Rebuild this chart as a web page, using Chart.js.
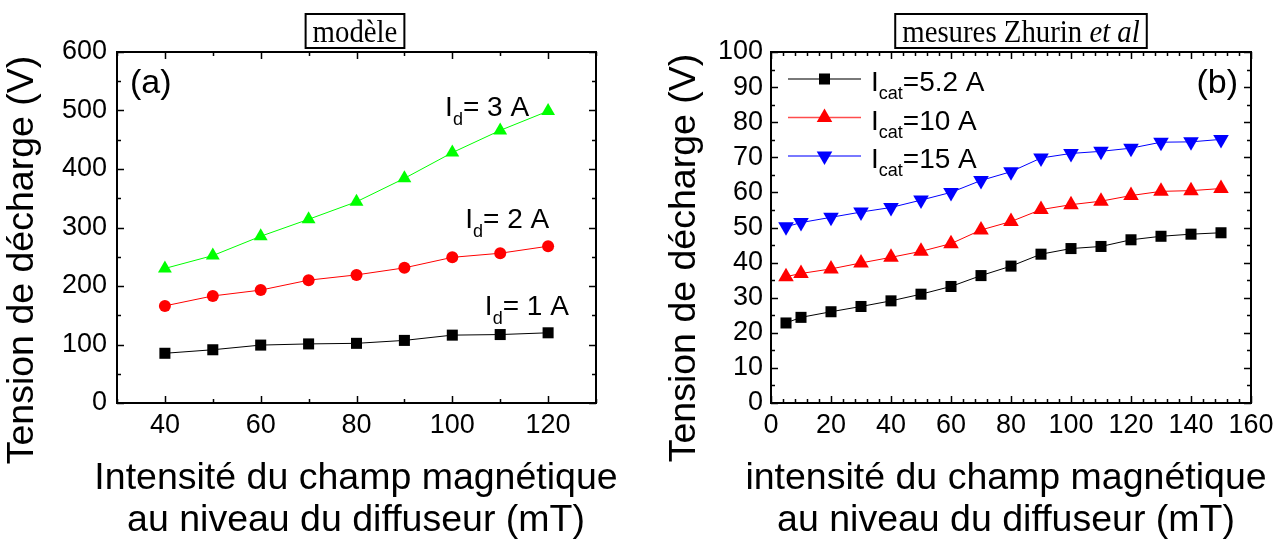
<!DOCTYPE html>
<html lang="fr">
<head>
<meta charset="utf-8" />
<title>Tension de décharge</title>
<style>
  html, body { margin: 0; padding: 0; background: #fff; }
  #cadre { position: relative; width: 1287px; height: 541px; overflow: hidden; }
  canvas { position: absolute; top: 0; }
  #panneauA { left: 0; }
  #panneauB { left: 640px; }
</style>
</head>
<body>
<div id="cadre">
  <canvas id="panneauA" width="640" height="541"></canvas>
  <canvas id="panneauB" width="647" height="541"></canvas>
</div>
<script src="https://cdn.jsdelivr.net/npm/chart.js@4.4.1/dist/chart.umd.min.js"></script>
<script>
// (a) modèle : tension vs champ, pour trois courants de décharge
const champA = [40, 50, 60, 70, 80, 90, 100, 110, 120];
const tensionId1 = [85, 91, 99, 101, 102, 107, 116, 117, 120];
const tensionId2 = [166, 183, 193, 210, 219, 231, 249, 256, 268];
const tensionId3 = [230, 252, 285, 314, 344, 384, 428, 466, 499];
const ticksXA = [40, 60, 80, 100, 120];
const ticksYA = [0, 100, 200, 300, 400, 500, 600];

// (b) mesures Zhurin et al : trois courants de cathode
const champB = [5, 10, 20, 30, 40, 50, 60, 70, 80, 90, 100, 110, 120, 130, 140, 150];
const tensionCat52 = [22.8, 24.4, 26.0, 27.5, 29.1, 31.0, 33.2, 36.3, 39.0, 42.4, 44.0, 44.6, 46.5, 47.5, 48.1, 48.5];
const tensionCat10 = [36.0, 36.9, 38.2, 39.9, 41.5, 43.2, 45.4, 49.3, 51.7, 55.1, 56.5, 57.5, 59.1, 60.3, 60.5, 61.1];
const tensionCat15 = [50.2, 51.4, 52.9, 54.4, 55.7, 57.8, 60.0, 63.4, 65.9, 69.8, 71.1, 71.7, 72.6, 74.3, 74.4, 75.1];
const ticksXB = [0, 20, 40, 60, 80, 100, 120, 140, 160];
const ticksYB = [0, 10, 20, 30, 40, 50, 60, 70, 80, 90, 100];

const SANS = "'Liberation Sans', Arial, Helvetica, sans-serif";
const SERIF = "'Liberation Serif', 'Times New Roman', serif";
Chart.defaults.font.family = SANS;
Chart.defaults.color = '#000';

function points(xs, ys) {
    return xs.map((x, i) => ({ x: x, y: ys[i] }));
}

// texte avec indice : [["I", 28], ["d", 18, 9], ["= 3 A", 28]]
function texteIndice(ctx, morceaux, x, y) {
    ctx.textAlign = 'left';
    ctx.textBaseline = 'alphabetic';
    morceaux.forEach((m) => {
        ctx.font = m[1] + 'px ' + SANS;
        ctx.fillText(m[0], x, y + (m[2] || 0));
        x += ctx.measureText(m[0]).width;
    });
}

function marqueur(ctx, ds, x, y) {
    ctx.fillStyle = ds.pointBackgroundColor;
    ctx.strokeStyle = ds.pointBackgroundColor;
    Chart.helpers.drawPoint(ctx, {
        pointStyle: ds.pointStyle,
        rotation: ds.pointRotation || 0,
        radius: ds.pointRadius,
        borderWidth: 0
    }, x, y);
}

function decor(cfg) {
    return {
        id: 'decor',
        afterDatasetsDraw(chart) {
            const ctx = chart.ctx, a = chart.chartArea;
            const xs = chart.scales.x, ys = chart.scales.y;
            ctx.save();
            ctx.fillStyle = '#000';
            ctx.strokeStyle = '#000';

            // graduations vers l'intérieur, sur les quatre côtés
            ctx.lineWidth = 1.5;
            ctx.beginPath();
            for (let v = xs.min; v <= xs.max + 1e-9; v += cfg.xMineur) {
                const p = Math.round(xs.getPixelForValue(v)) + 0.5;
                const L = Math.abs(v / cfg.xMajeur - Math.round(v / cfg.xMajeur)) < 1e-6 ? 7 : 4;
                ctx.moveTo(p, a.bottom); ctx.lineTo(p, a.bottom - L);
                ctx.moveTo(p, a.top); ctx.lineTo(p, a.top + L);
            }
            for (let v = ys.min; v <= ys.max + 1e-9; v += cfg.yMineur) {
                const p = Math.round(ys.getPixelForValue(v)) + 0.5;
                const L = Math.abs(v / cfg.yMajeur - Math.round(v / cfg.yMajeur)) < 1e-6 ? 7 : 4;
                ctx.moveTo(a.left, p); ctx.lineTo(a.left + L, p);
                ctx.moveTo(a.right, p); ctx.lineTo(a.right - L, p);
            }
            ctx.stroke();
            ctx.lineWidth = 2;
            ctx.strokeRect(a.left, a.top, a.right - a.left, a.bottom - a.top);

            // titres des axes
            ctx.font = '37.5px ' + SANS;
            ctx.textAlign = 'center';
            ctx.textBaseline = 'alphabetic';
            ctx.fillText(cfg.titreX[0], cfg.titreXc, 489);
            ctx.fillText(cfg.titreX[1], cfg.titreXc, 531);
            ctx.save();
            ctx.translate(cfg.titreY[1], cfg.titreY[2]);
            ctx.rotate(-Math.PI / 2);
            ctx.fillText(cfg.titreY[0], 0, 0);
            ctx.restore();

            // titre encadré, en Times un peu serré
            const serre = 0.9;
            ctx.textAlign = 'left';
            let largeur = 0;
            cfg.boite.forEach((m) => {
                ctx.font = (m[1] ? 'italic ' : '') + '32px ' + SERIF;
                largeur += ctx.measureText(m[0]).width * serre;
            });
            const bx = cfg.boiteX - largeur / 2 - 7;
            ctx.lineWidth = 2;
            ctx.strokeRect(bx, 14, largeur + 14, 34);
            let tx = bx + 7;
            cfg.boite.forEach((m) => {
                ctx.font = (m[1] ? 'italic ' : '') + '32px ' + SERIF;
                const w = ctx.measureText(m[0]).width;
                ctx.save();
                ctx.translate(tx, 42);
                ctx.scale(serre, 1);
                ctx.fillText(m[0], 0, 0);
                ctx.restore();
                tx += w * serre;
            });

            // lettre du panneau
            ctx.font = '34px ' + SANS;
            ctx.textAlign = cfg.lettre[1];
            ctx.fillText(cfg.lettre[0], cfg.lettre[1] === 'left' ? a.left + 13 : a.right - 13, a.top + 41);

            // étiquettes des courbes
            (cfg.etiquettes || []).forEach((e) => {
                texteIndice(ctx, e.texte, xs.getPixelForValue(e.x), ys.getPixelForValue(e.y));
            });

            // légende
            if (cfg.legende) {
                chart.data.datasets.forEach((ds, i) => {
                    const y = a.top + 27 + i * 38.5;
                    ctx.strokeStyle = ds.borderColor;
                    ctx.globalAlpha = 0.7;
                    ctx.lineWidth = 1.5;
                    ctx.beginPath();
                    ctx.moveTo(a.left + 17, y);
                    ctx.lineTo(a.left + 90, y);
                    ctx.stroke();
                    ctx.globalAlpha = 1;
                    marqueur(ctx, ds, a.left + 53.5, y);
                    ctx.fillStyle = '#000';
                    texteIndice(ctx, [['I', 28], ['cat', 18, 8], [ds.label, 28]], a.left + 100, y + 12);
                });
            }
            ctx.restore();
        }
    };
}

function axes(cfg) {
    return {
        x: {
            type: 'linear', min: cfg.xMin, max: cfg.xMax,
            afterBuildTicks: (s) => { s.ticks = cfg.ticksX.map((v) => ({ value: v })); },
            afterFit: (s) => { s.height = 138; },
            grid: { display: false, drawTicks: false },
            border: { display: false },
            ticks: { padding: 6, font: { size: 27 }, color: '#000', maxRotation: 0, autoSkip: false }
        },
        y: {
            type: 'linear', min: cfg.yMin, max: cfg.yMax,
            afterBuildTicks: (s) => { s.ticks = cfg.ticksY.map((v) => ({ value: v })); },
            afterFit: (s) => { s.width = cfg.largeurY; },
            grid: { display: false, drawTicks: false },
            border: { display: false },
            ticks: { padding: cfg.padY, font: { size: 27 }, color: '#000', autoSkip: false }
        }
    };
}

const commun = {
    responsive: false,
    animation: false,
    events: [],
    plugins: { legend: { display: false }, tooltip: { enabled: false }, title: { display: false } }
};

new Chart(document.getElementById('panneauA'), {
    type: 'line',
    data: {
        datasets: [
            { label: 'Id = 1 A', data: points(champA, tensionId1), borderColor: '#000000', borderWidth: 1,
              pointStyle: 'rect', pointRadius: 7.8, pointBackgroundColor: '#000000', pointBorderWidth: 0 },
            { label: 'Id = 2 A', data: points(champA, tensionId2), borderColor: '#ff0000', borderWidth: 1,
              pointStyle: 'circle', pointRadius: 6, pointBackgroundColor: '#ff0000', pointBorderWidth: 0 },
            { label: 'Id = 3 A', data: points(champA, tensionId3), borderColor: '#00ff00', borderWidth: 1,
              pointStyle: 'triangle', pointRadius: 8, pointBackgroundColor: '#00ff00', pointBorderWidth: 0 }
        ]
    },
    options: Object.assign({}, commun, {
        layout: { padding: { left: 0, top: 52, right: 44, bottom: 0 } },
        scales: axes({
            xMin: 30, xMax: 130, yMin: 0, yMax: 600, ticksX: ticksXA, ticksY: ticksYA,
            largeurY: 117, padY: 10
        })
    }),
    plugins: [decor({
        xMineur: 10, xMajeur: 20, yMineur: 50, yMajeur: 100,
        titreX: ['Intensité du champ magnétique', 'au niveau du diffuseur (mT)'], titreXc: 356,
        titreY: ['Tension de décharge (V)', 33, 260],
        boite: [['modèle', false]], boiteX: 355,
        lettre: ['(a)', 'left'],
        etiquettes: [
            { texte: [['I', 28], ['d', 18, 9], ['= 3 A', 28]], x: 98.5, y: 490 },
            { texte: [['I', 28], ['d', 18, 9], ['= 2 A', 28]], x: 102.7, y: 299 },
            { texte: [['I', 28], ['d', 18, 9], ['= 1 A', 28]], x: 106.8, y: 150 }
        ]
    })]
});

new Chart(document.getElementById('panneauB'), {
    type: 'line',
    data: {
        datasets: [
            { label: '=5.2 A', data: points(champB, tensionCat52), borderColor: '#000000', borderWidth: 1,
              pointStyle: 'rect', pointRadius: 7.8, pointBackgroundColor: '#000000', pointBorderWidth: 0 },
            { label: '=10 A', data: points(champB, tensionCat10), borderColor: '#ff0000', borderWidth: 1,
              pointStyle: 'triangle', pointRadius: 9, pointBackgroundColor: '#ff0000', pointBorderWidth: 0 },
            { label: '=15 A', data: points(champB, tensionCat15), borderColor: '#0000ff', borderWidth: 1,
              pointStyle: 'triangle', pointRotation: 180, pointRadius: 9, pointBackgroundColor: '#0000ff', pointBorderWidth: 0 }
        ]
    },
    options: Object.assign({}, commun, {
        layout: { padding: { left: 0, top: 52, right: 36, bottom: 0 } },
        scales: axes({
            xMin: 0, xMax: 160, yMin: 0, yMax: 100, ticksX: ticksXB, ticksY: ticksYB,
            largeurY: 131, padY: 8
        })
    }),
    plugins: [decor({
        xMineur: 4, xMajeur: 20, yMineur: 5, yMajeur: 10,
        titreX: ['intensité du champ magnétique', 'au niveau du diffuseur (mT)'], titreXc: 366,
        titreY: ['Tension de décharge (V)', 55, 258],
        boite: [['mesures Zhurin ', false], ['et al', true]], boiteX: 381,
        lettre: ['(b)', 'right'],
        legende: true
    })]
});
</script>
</body>
</html>
